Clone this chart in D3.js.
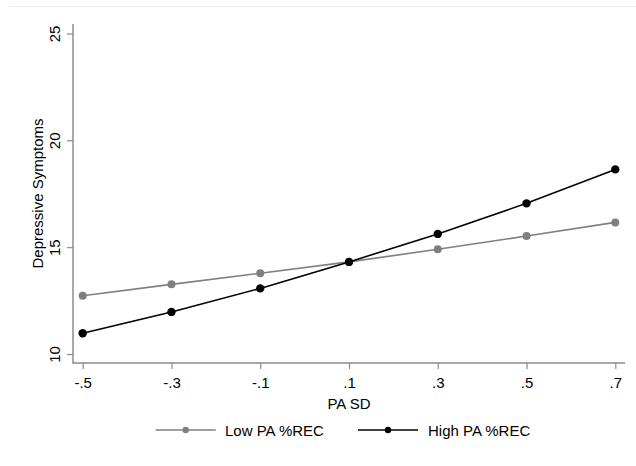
<!DOCTYPE html>
<html>
<head>
<meta charset="utf-8">
<script src="https://cdn.jsdelivr.net/npm/d3@7"></script>
<style>
  html, body { margin: 0; padding: 0; background: #fff; }
  svg { display: block; font-family: "Liberation Sans", Arial, sans-serif; }
</style>
</head>
<body>
<svg id="chart" width="636" height="466"></svg>
<script>
// ---- data ----
const xValues = [-0.5, -0.3, -0.1, 0.1, 0.3, 0.5, 0.7];
const xTickLabels = ["-.5", "-.3", "-.1", ".1", ".3", ".5", ".7"];
const yTicks = [10, 15, 20, 25];
const lowPA = [12.73, 13.26, 13.78, 14.31, 14.90, 15.52, 16.16];
const highPA = [10.97, 11.97, 13.07, 14.31, 15.62, 17.05, 18.64];
const seriesNames = ["Low PA %REC", "High PA %REC"];

// ---- layout ----
const svg = d3.select("#chart");
const x = d3.scaleLinear().domain([-0.5, 0.7]).range([82.7, 615.3]);
const y = d3.scaleLinear().domain([10, 25]).range([354, 33.5]);
const axisLeftX = 73, axisBottomY = 363;
const axisColor = "#8c8c8c";

// faint top border
svg.append("line").attr("x1", 9).attr("x2", 636).attr("y1", 6.5).attr("y2", 6.5)
  .attr("stroke", "#ececec").attr("stroke-width", 1);

// y axis
const yAxis = d3.axisLeft(y).tickValues(yTicks).tickSize(6).tickFormat(d => d);
const gy = svg.append("g").attr("transform", `translate(${axisLeftX},0)`).call(yAxis);
gy.select(".domain").remove();
gy.selectAll(".tick line").attr("stroke", axisColor).attr("stroke-width", 1.2);
gy.selectAll(".tick text")
  .attr("x", null).attr("dy", null)
  .attr("transform", "translate(-13,0) rotate(-90)")
  .attr("text-anchor", "middle")
  .attr("font-size", 15).attr("fill", "#000");
svg.append("line").attr("x1", axisLeftX).attr("x2", axisLeftX)
  .attr("y1", 24).attr("y2", axisBottomY + 0.5)
  .attr("stroke", axisColor).attr("stroke-width", 1.5);

// x axis
const xAxis = d3.axisBottom(x).tickValues(xValues).tickSize(6)
  .tickFormat((d, i) => xTickLabels[i]);
const gx = svg.append("g").attr("transform", `translate(0,${axisBottomY})`).call(xAxis);
gx.select(".domain").remove();
gx.selectAll(".tick line").attr("stroke", axisColor).attr("stroke-width", 1.2);
gx.selectAll(".tick text").attr("y", 25).attr("dy", null)
  .attr("font-size", 15).attr("fill", "#000");
svg.append("line").attr("x1", axisLeftX - 0.5).attr("x2", 625)
  .attr("y1", axisBottomY).attr("y2", axisBottomY)
  .attr("stroke", axisColor).attr("stroke-width", 1.5);

// axis titles
svg.append("text").attr("x", (x(-0.5) + x(0.7)) / 2).attr("y", 408.5)
  .attr("text-anchor", "middle").attr("font-size", 15).attr("fill", "#000")
  .text("PA SD");
svg.append("text").attr("transform", `translate(43,${(24 + axisBottomY) / 2}) rotate(-90)`)
  .attr("text-anchor", "middle").attr("font-size", 15).attr("fill", "#000")
  .text("Depressive Symptoms");

// series
const series = [
  { name: seriesNames[0], values: lowPA, color: "#7f7f7f", r: 4 },
  { name: seriesNames[1], values: highPA, color: "#000000", r: 4.2 }
];
const line = d3.line().x((d, i) => x(xValues[i])).y(d => y(d));
series.forEach(s => {
  svg.append("path").datum(s.values).attr("d", line)
    .attr("fill", "none").attr("stroke", s.color).attr("stroke-width", 1.6);
  svg.append("g").selectAll("circle").data(s.values).join("circle")
    .attr("cx", (d, i) => x(xValues[i])).attr("cy", d => y(d))
    .attr("r", s.r).attr("fill", s.color);
});

// legend
const legendItems = [
  { x0: 155.7, tx: 225 },
  { x0: 358, tx: 428 }
];
series.forEach((s, i) => {
  const L = legendItems[i];
  const g = svg.append("g");
  g.append("line").attr("x1", L.x0).attr("x2", L.x0 + 60).attr("y1", 430).attr("y2", 430)
    .attr("stroke", s.color).attr("stroke-width", 1.6);
  g.append("circle").attr("cx", L.x0 + 30).attr("cy", 430).attr("r", 3.2).attr("fill", s.color);
  g.append("text").attr("x", L.tx).attr("y", 436).attr("font-size", 15).attr("fill", "#000")
    .text(s.name);
});
</script>
</body>
</html>
